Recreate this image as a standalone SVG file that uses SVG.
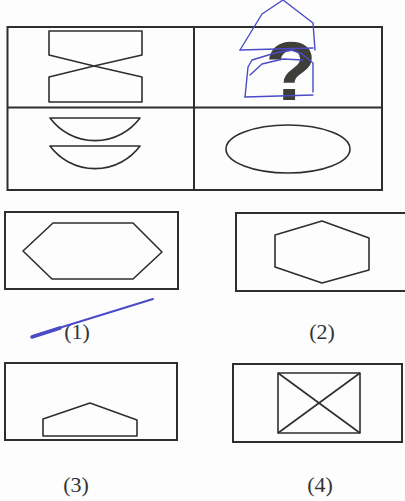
<svg xmlns="http://www.w3.org/2000/svg" width="405" height="501" viewBox="0 0 405 501">
<style>
.ln{fill:none;stroke:#2e2e2e;stroke-width:1.6;stroke-linejoin:round}
.bx{fill:none;stroke:#2e2e2e;stroke-width:2}
.bl{fill:none;stroke:#4b4bc8;stroke-width:1.4;stroke-linejoin:round;stroke-linecap:round}
.lab{font-family:"Liberation Serif",serif;font-size:22px;fill:#333;text-anchor:middle}
</style>
<rect width="405" height="501" fill="#fdfdfd"/>
<g id="grid">
<rect class="bx" x="7.5" y="27" width="374.5" height="163"/>
<line class="bx" x1="194" y1="27" x2="194" y2="190"/>
<line class="bx" x1="7.5" y1="107.5" x2="382" y2="107.5"/>
</g>
<g id="cell-tl">
<polygon class="ln" points="49,31 142,31 142,55 94,66 142,77 142,102 49,102 49,77 94,66 49,55"/>
</g>
<g id="cell-tr">
<text x="291" y="100" font-family="Liberation Sans,Arial,sans-serif" font-weight="bold" font-size="84" fill="#3f3f3a" text-anchor="middle">?</text>
<polyline class="bl" points="240,50 262,14 283,0 313,23 315,50"/>
<line class="bl" x1="240" y1="50" x2="313" y2="48"/>
<polyline class="bl" points="245,97 248,67 252,60 275,53 292,50 302,54 313,63 313,92"/>
<line class="bl" x1="245" y1="97" x2="313" y2="95"/>
<polyline class="bl" points="250,75 262,64 283,59 303,60"/>
</g>
<g id="cell-bl">
<path class="ln" d="M50,118 L140,118 A56,56 0 0 1 50,118 Z"/>
<path class="ln" d="M50,146 L140,146 A56,56 0 0 1 50,146 Z"/>
</g>
<g id="cell-br">
<ellipse class="ln" cx="288" cy="149" rx="62" ry="24"/>
</g>
<g id="opt1">
<rect class="bx" x="5" y="212" width="173" height="77"/>
<polygon class="ln" points="23,251 53,223 133,223 162,252 133,279 52,279"/>
<text class="lab" x="77" y="339">(1)</text>
<path d="M33,336 L153,299" stroke="#4b4bc8" stroke-width="2" stroke-linecap="round"/>
<path d="M32,337 L60,328" stroke="#4b4bc8" stroke-width="3.5" stroke-linecap="round"/>
</g>
<g id="opt2">
<rect class="bx" x="236" y="213" width="175" height="78"/>
<polygon class="ln" points="275,235 322,221 369,238 369,270 322,283 275,267"/>
<text class="lab" x="322" y="339">(2)</text>
</g>
<g id="opt3">
<rect class="bx" x="5" y="363" width="172" height="77"/>
<polygon class="ln" points="43,436 43,419 90,403 137,420 137,436"/>
<text class="lab" x="76" y="492">(3)</text>
</g>
<g id="opt4">
<rect class="bx" x="233" y="364" width="169" height="78"/>
<rect class="ln" x="278" y="373" width="82" height="60"/>
<line class="ln" x1="278" y1="373" x2="360" y2="433"/>
<line class="ln" x1="360" y1="373" x2="278" y2="433"/>
<text class="lab" x="320" y="492">(4)</text>
</g>
</svg>
